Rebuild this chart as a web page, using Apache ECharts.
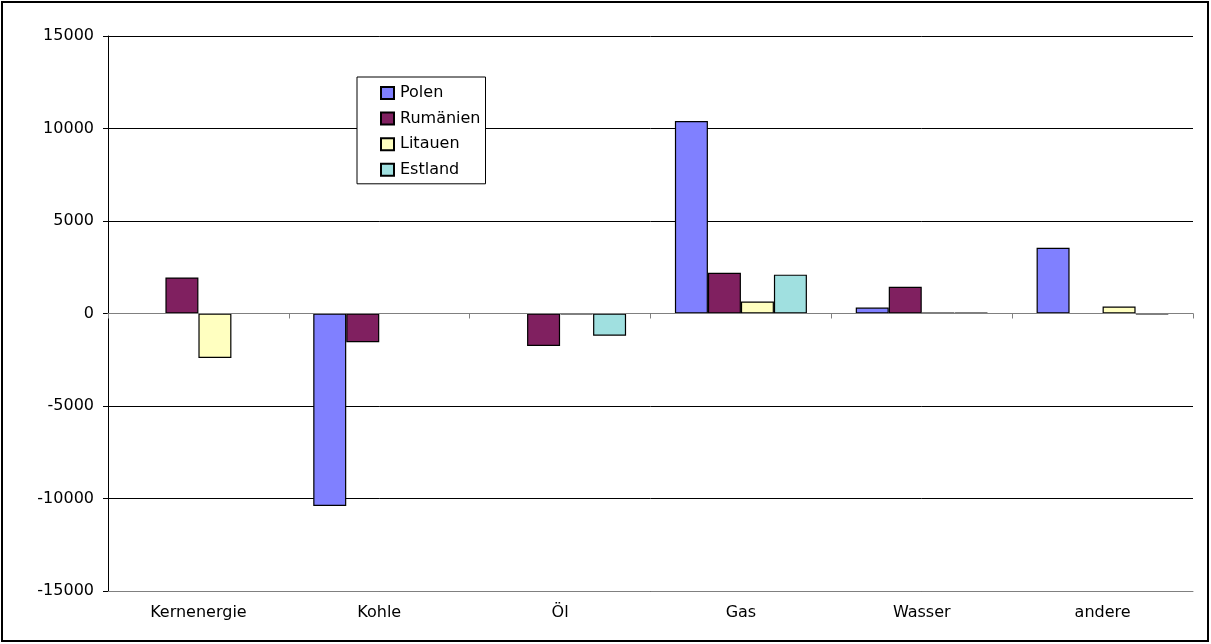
<!DOCTYPE html>
<html>
<head>
<meta charset="utf-8">
<script src="https://cdn.jsdelivr.net/npm/echarts@6/dist/echarts.min.js"></script>
<style>
html,body{margin:0;padding:0;background:#fff;}
#chart{width:1211px;height:644px;}
</style>
</head>
<body>
<div id="chart"></div>
<script>
const categories = ['Kernenergie', 'Kohle', 'Öl', 'Gas', 'Wasser', 'andere'];
const polen    = [0, -10400, 0, 10400, 320, 3550];
const rumaenien = [1950, -1550, -1750, 2200, 1450, 0];
const litauen  = [-2400, 0, -50, 650, 30, 380];
const estland  = [0, 0, -1200, 2100, 30, -30];
const seriesNames = ['Polen', 'Rumänien', 'Litauen', 'Estland'];
const yTicks = [-15000, -10000, -5000, 0, 5000, 10000, 15000];

const colors = ['#8080FF', '#802060', '#FFFFC0', '#A0E0E0'];
const FONT = 'DejaVu Sans';

const chart = echarts.init(document.getElementById('chart'), null, {renderer: 'canvas'});
const dataSets = [polen, rumaenien, litauen, estland];

chart.setOption({
  animation: false,
  backgroundColor: '#fff',
  textStyle: {fontFamily: FONT},
  graphic: [{
    type: 'rect',
    shape: {x: 2, y: 2, width: 1206, height: 639},
    style: {fill: 'none', stroke: '#000', lineWidth: 2},
    silent: true, z: 100
  }],
  grid: {left: 108, right: 18, top: 36, bottom: 53},
  legend: {
    orient: 'vertical',
    left: 357, top: 77,
    padding: [8, 5, 6, 23],
    itemWidth: 13, itemHeight: 12, itemGap: 9.6,
    backgroundColor: '#fff',
    borderColor: '#000', borderWidth: 1,
    borderRadius: 0,
    icon: 'rect',
    data: seriesNames,
    textStyle: {fontFamily: FONT, fontSize: 16, color: '#000', lineHeight: 16, padding: [0, 0, 0, 1]}
  },
  xAxis: [{
    type: 'category',
    data: categories,
    position: 'bottom',
    axisLine: {onZero: true, lineStyle: {color: '#808080', width: 1}},
    axisTick: {show: true, length: 5, lineStyle: {color: '#808080'}},
    axisLabel: {show: false},
    splitLine: {show: false},
    z: 5
  }, {
    type: 'category',
    data: categories,
    position: 'bottom',
    axisLine: {onZero: false, lineStyle: {color: '#808080', width: 1}},
    axisTick: {show: false},
    axisLabel: {show: true, color: '#000', fontFamily: FONT, fontSize: 16, margin: 14},
    splitLine: {show: false}
  }],
  yAxis: {
    type: 'value',
    min: -15000, max: 15000, interval: 5000,
    axisLine: {show: true, lineStyle: {color: '#000', width: 1}},
    axisTick: {show: true, length: 5, inside: false, lineStyle: {color: '#000'}},
    axisLabel: {color: '#000', fontFamily: FONT, fontSize: 16, margin: 14,
      formatter: function (v) { return String(v); }},
    splitLine: {show: true, lineStyle: {color: '#000', width: 1}}
  },
  series: seriesNames.map((name, i) => ({
    name: name,
    type: 'bar',
    xAxisIndex: 0,
    data: dataSets[i],
    barGap: '0%',
    barCategoryGap: '27%',
    itemStyle: {color: colors[i], borderColor: '#000', borderWidth: 1.2},
    emphasis: {disabled: true}
  }))
});
</script>
</body>
</html>
